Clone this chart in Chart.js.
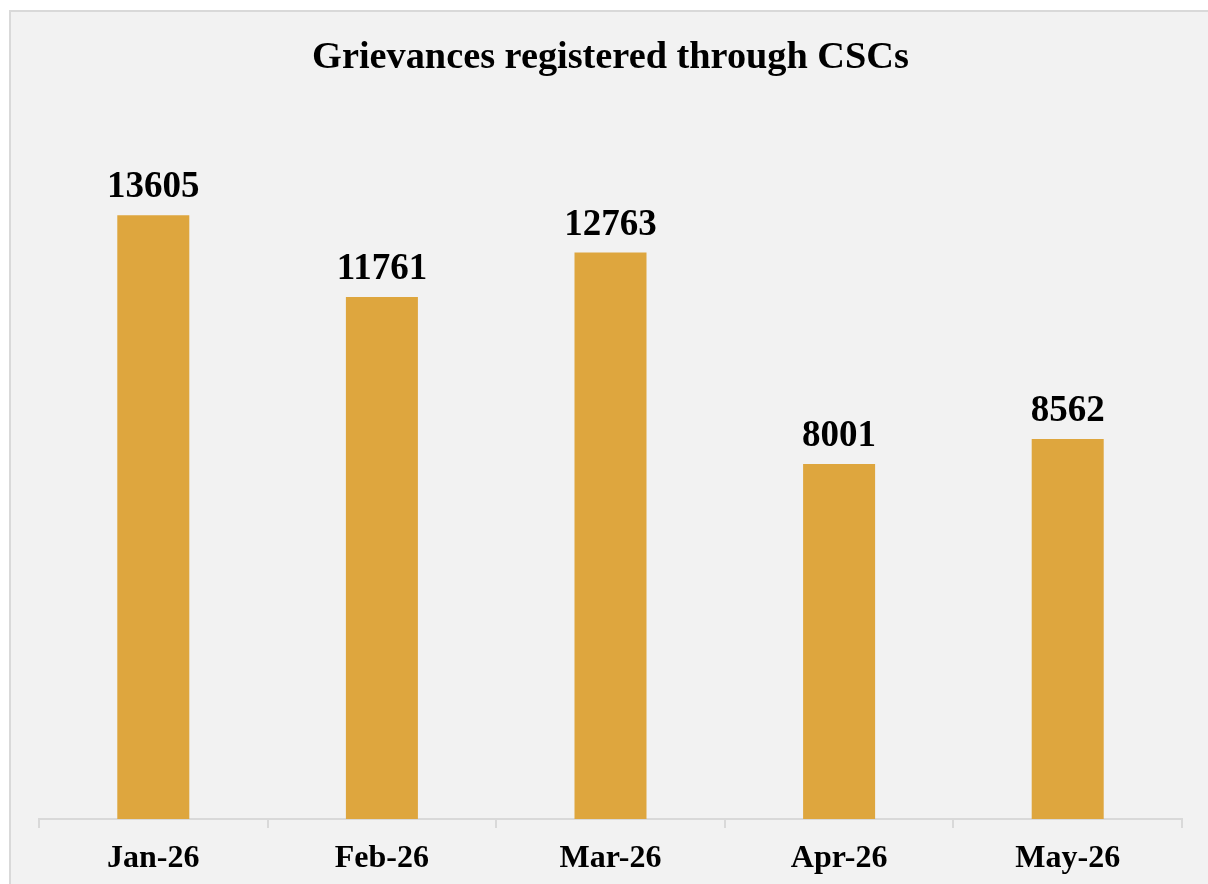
<!DOCTYPE html>
<html>
<head>
<meta charset="utf-8">
<script src="https://cdn.jsdelivr.net/npm/chart.js@4/dist/chart.umd.min.js"></script>
<style>
  html, body { margin: 0; padding: 0; background: #ffffff; overflow: hidden; }
  #box {
    position: absolute; left: 9px; top: 10px;
    width: 1200px; height: 880px;
    border: 2px solid #d9d9d9; background: #f2f2f2;
  }
  canvas { display: block; }
</style>
</head>
<body>
<div id="box"><canvas id="chart" width="1200" height="880"></canvas></div>
<script>
const months = ["Jan-26", "Feb-26", "Mar-26", "Apr-26", "May-26"];
const grievances = [13605, 11761, 12763, 8001, 8562];
const yMax = 16000;

const FONT = "'Liberation Serif', 'Times New Roman', serif";

// value labels above each bar
const barLabels = {
  id: "barLabels",
  afterDatasetsDraw(chart) {
    const { ctx } = chart;
    const meta = chart.getDatasetMeta(0);
    ctx.save();
    ctx.font = `bold 37px ${FONT}`;
    ctx.fillStyle = "#000000";
    ctx.textAlign = "center";
    ctx.textBaseline = "alphabetic";
    meta.data.forEach((bar, i) => {
      ctx.fillText(String(grievances[i]), bar.x, bar.y - 18);
    });
    ctx.restore();
  },
};

new Chart(document.getElementById("chart"), {
  type: "bar",
  data: {
    labels: months,
    datasets: [{
      data: grievances,
      backgroundColor: "#dea63e",
      borderWidth: 0,
      barPercentage: 0.315,
      categoryPercentage: 1,
    }],
  },
  options: {
    responsive: false,
    animation: false,
    layout: { padding: { left: 28, right: 29, top: 0, bottom: 0 } },
    plugins: {
      legend: { display: false },
      tooltip: { enabled: false },
      title: {
        display: true,
        text: "Grievances registered through CSCs",
        color: "#000000",
        font: { family: FONT, size: 38.3, weight: "bold", lineHeight: 1.2 },
        padding: { top: 23, bottom: 28 },
      },
    },
    scales: {
      x: {
        grid: {
          offset: true,
          drawOnChartArea: false,
          drawTicks: true,
          tickLength: 9,
          color: "#d9d9d9",
          lineWidth: 2,
        },
        border: { display: true, color: "#d9d9d9", width: 2 },
        ticks: {
          color: "#000000",
          padding: 12,
          maxRotation: 0,
          font: { family: FONT, size: 32, weight: "bold" },
        },
        afterFit(scale) { scale.height = 73; },
      },
      y: {
        display: false,
        min: 0,
        max: yMax,
      },
    },
  },
  plugins: [barLabels],
});
</script>
</body>
</html>
